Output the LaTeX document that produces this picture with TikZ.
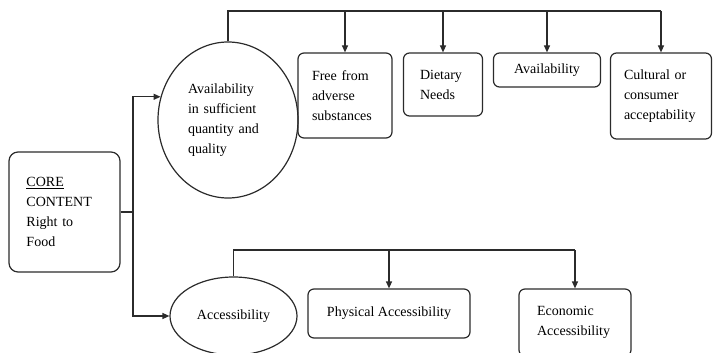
\documentclass[tikz,border=0pt]{standalone}
\usepackage{fontspec}
\setmainfont{Liberation Serif}
\usetikzlibrary{shapes.geometric,arrows.meta}
\definecolor{ink}{HTML}{2B2B2B}
\begin{document}
\begin{tikzpicture}[x=1pt,y=-1pt,
  every node/.style={font=\fontsize{14}{20}\selectfont, text=black},
  line/.style={draw=ink, line width=1.2pt},
  arr/.style={line, -{Triangle[length=7pt,width=6pt]}},
  rbox/.style={draw=ink, line width=1.2pt, rounded corners=6pt, inner sep=0pt, align=left},
  oval/.style={draw=ink, line width=1.2pt, ellipse, inner sep=0pt, align=left}]
\useasboundingbox (0,0) rectangle (713,353);

% root
\node[rbox, rounded corners=9pt, minimum width=111, minimum height=120, text width=76] (core) at (64.5,212)
  {\underline{CORE}\\CONTENT\\Right to\\Food};

% first branch: availability
\node[oval, minimum width=140, minimum height=156, text width=80] (avail) at (228,120)
  {Availability\\in sufficient\\quantity and\\quality};
\node[rbox, minimum width=94, minimum height=85, text width=66] (free) at (345,95.5)
  {Free from\\adverse\\substances};
\node[rbox, minimum width=79, minimum height=63, text width=46] (diet) at (443,84.5)
  {Dietary\\Needs};
\node[rbox, minimum width=107, minimum height=34, align=center] (avl) at (547,70)
  {Availability};
\node[rbox, minimum width=101, minimum height=86, text width=74] (cult) at (661,96)
  {Cultural or\\consumer\\acceptability};

% second branch: accessibility
\node[oval, minimum width=127, minimum height=78, align=center] (access) at (233.5,316)
  {Accessibility};
\node[rbox, minimum width=162, minimum height=49, align=center] (phys) at (389,313.5)
  {Physical Accessibility};
\node[rbox, minimum width=112, minimum height=67, text width=76] (econ) at (575,322.5)
  {Economic\\Accessibility};

% root to branches
\coordinate (split) at (133,212);
\draw[line] (core.east) -- (split);
\draw[arr] (split) |- (avail.161);
\draw[arr] (split) |- (access.west);

% upper bus
\coordinate (topbus) at (0,11);
\draw[line] (avail.north) -- (avail.north |- topbus) -- (cult.north |- topbus);
\foreach \t in {free,diet,avl,cult}
  \draw[arr] (\t.north |- topbus) -- (\t.north);

% lower bus
\coordinate (lowbus) at (0,250);
\draw[line] (access.north) -- (access.north |- lowbus) -- (econ.north |- lowbus);
\foreach \t in {phys,econ}
  \draw[arr] (\t.north |- lowbus) -- (\t.north);
\end{tikzpicture}
\end{document}
